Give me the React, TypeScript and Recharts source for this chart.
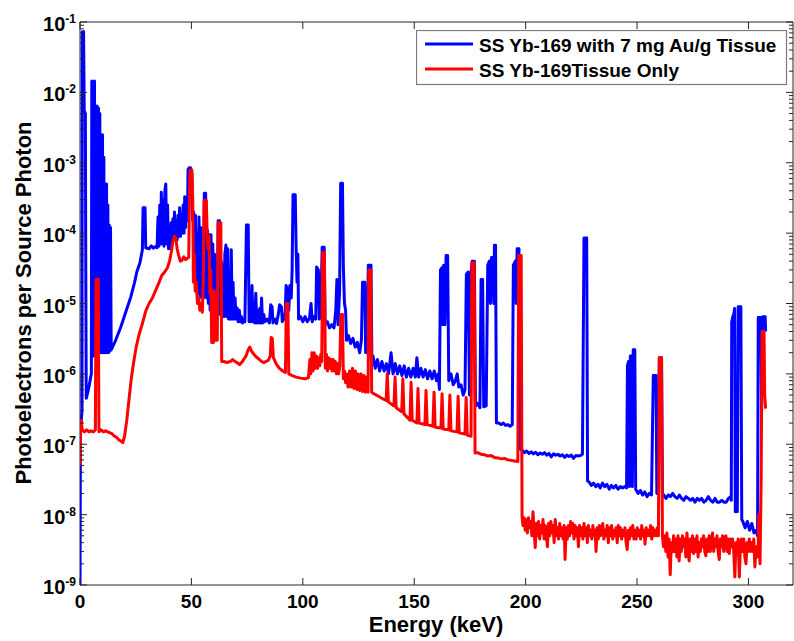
import React from "react";
import { LineChart, Line, XAxis, YAxis, ReferenceArea, Legend } from "recharts";

type Pt = [number, number];

// plot frame in page pixels
const PL = 80;
const PR = 793;
const PT = 22;
const PB = 585;
const AXIS = "#262626";
const FONT = "'Liberation Sans', Arial, Helvetica, sans-serif";

const seriesNames = ["SS Yb-169 with 7 mg Au/g Tissue", "SS Yb-169Tissue Only"];
const seriesColors = ["#0000ff", "#ff0000"];

const xTicks = [0, 50, 100, 150, 200, 250, 300];
const decades = [1e-9, 1e-8, 1e-7, 1e-6, 1e-5, 1e-4, 1e-3, 1e-2, 1e-1];
const minorSteps = [2, 3, 4, 5, 6, 7, 8, 9];

// energy (keV), photoelectrons per source photon
const blueLow: Pt[] = [
  [0, 1e-9], [0.2, 1.3e-7], [0.6, 2.2e-7], [0.9, 3e-7], [1.0, 7.2e-2], [1.6, 7.3e-2], [1.9, 5.5e-3],
  [2.4, 5e-3], [2.6, 3e-5], [2.8, 4.5e-7], [3.5, 5.5e-7], [4.2, 7e-7], [4.8, 9e-7], [5.1, 1e-6],
  [5.3, 1.45e-2], [5.6, 1.8e-6], [5.9, 1.4e-2], [6.2, 1.8e-6], [6.5, 1.45e-2], [6.8, 2e-6], [7.1, 6.4e-3],
  [7.4, 2e-6], [7.7, 6.4e-3], [8.0, 2e-6], [8.3, 6e-3], [8.6, 2e-6], [8.9, 5e-3], [9.2, 2e-6],
  [9.5, 2.5e-3], [9.8, 2e-6], [10.1, 2.5e-3], [10.4, 2e-6], [10.7, 1.2e-3], [11.0, 2e-6], [11.3, 5e-4],
  [11.6, 2e-6], [11.9, 5e-4], [12.2, 2e-6], [12.5, 2.5e-4], [12.8, 2e-6], [13.1, 1.3e-4], [13.4, 2.1e-6],
  [13.7, 1.2e-4], [14.0, 2.2e-6], [16.0, 3e-6], [18.4, 4.7e-6], [20.5, 7.5e-6], [22.8, 1.24e-5],
  [24.5, 2e-5], [25.5, 2.8e-5], [26.9, 3.8e-5], [28.0, 5.8e-5], [28.3, 2.3e-4], [29.2, 2.3e-4],
  [29.5, 6.2e-5], [31.0, 6e-5], [32.0, 6.6e-5], [33.0, 6.1e-5], [34.0, 6.5e-5], [34.6, 6.2e-5],
  [35.0, 1.7e-4], [35.4, 6.5e-5], [35.8, 2.5e-4], [36.2, 7e-5], [36.5, 3.8e-4], [36.9, 7e-5],
  [37.3, 3e-4], [37.7, 6.5e-5], [38.1, 4e-4], [38.5, 5e-4], [38.9, 7e-5], [39.3, 2.5e-4], [39.7, 6e-5],
  [40.1, 1.2e-4], [40.5, 6e-5], [40.9, 1.4e-4], [41.3, 7e-5], [41.7, 1.6e-4], [42.1, 8e-5], [42.4, 2e-4],
  [42.8, 9e-5], [43.2, 1.5e-4], [43.6, 8e-5], [44.0, 1.8e-4], [44.4, 9e-5], [44.7, 2.3e-4], [45.1, 9e-5],
  [45.5, 1.8e-4], [45.9, 1e-4], [46.3, 2.5e-4], [46.7, 1e-4], [47.0, 3.3e-4], [47.4, 1.2e-4],
  [47.8, 2.8e-4], [48.2, 1.5e-4], [48.5, 8e-4], [49.0, 8.5e-4], [49.6, 8.5e-4], [50.2, 7e-4], [50.6, 1.5e-4],
];

const blueMid: Pt[] = [
  [51.0, 2e-4], [51.4, 4e-5], [51.8, 1.8e-4], [52.2, 1.5e-5], [52.6, 1e-4], [53.0, 1.4e-5], [53.4, 1.7e-4],
  [53.8, 1.3e-5], [54.2, 1.2e-4], [54.6, 1.2e-5], [55.0, 6e-5], [55.4, 1.2e-5], [55.8, 3.7e-4],
  [56.4, 3.7e-4], [56.8, 1.2e-5], [57.2, 1.1e-4], [57.6, 1e-5], [58.0, 9.5e-5], [58.4, 8e-6], [58.8, 9.5e-5],
  [59.2, 8e-6], [59.6, 7e-5], [60.0, 7e-6], [60.4, 5e-5], [60.8, 7e-6], [61.2, 3e-5], [61.6, 7e-6],
  [62.0, 1.5e-4], [62.6, 1.5e-4], [63.0, 7e-6], [63.4, 4e-5], [63.8, 6.5e-6], [64.2, 3.5e-5], [64.6, 6.5e-6],
  [65.0, 5e-5], [65.5, 6.8e-5], [65.9, 6.5e-6], [66.3, 6e-5], [66.7, 6e-6], [67.1, 2.5e-5], [67.5, 6e-6],
  [67.9, 5.8e-5], [68.3, 6e-6], [68.7, 2e-5], [69.1, 6e-6], [69.6, 1.2e-5], [70.0, 6e-6], [70.5, 8.6e-6],
  [71.0, 5.5e-6], [71.5, 8e-6], [72.0, 5.5e-6], [72.5, 6.5e-6], [73.0, 5.3e-6], [73.5, 6e-6], [74.0, 5.5e-6],
  [74.7, 1.3e-4], [75.5, 1.3e-4], [75.9, 5.5e-6], [76.3, 9e-6], [76.8, 5.5e-6], [77.2, 1.8e-5], [77.6, 5.5e-6],
  [78.0, 1e-5], [78.4, 5.3e-6], [78.9, 1.4e-5], [79.3, 5.3e-6], [79.8, 8e-6], [80.2, 5.3e-6], [80.7, 8.5e-6],
  [81.1, 5.3e-6], [81.5, 1.2e-5], [81.9, 5.3e-6], [82.5, 7e-6], [83.0, 5.5e-6], [84.0, 6e-6], [85.0, 5.3e-6],
  [85.6, 9.6e-6], [86.2, 9e-6], [86.6, 5.3e-6], [87.5, 6e-6], [88.2, 5.2e-6], [89.0, 7e-6], [89.6, 9.6e-6],
  [90.4, 9e-6], [90.8, 5.5e-6], [91.5, 7e-6], [92.0, 6e-6], [92.5, 1.8e-5], [93.2, 1.6e-5], [93.7, 8e-6],
  [94.2, 1.8e-5], [94.8, 1.2e-5], [95.2, 3e-5], [95.6, 3.5e-4], [96.6, 3.5e-4], [97.0, 6e-5], [97.4, 2e-5],
  [97.8, 5e-5], [98.1, 6e-6], [99.0, 6.5e-6], [100.0, 5.5e-6], [101.0, 6.5e-6], [102.0, 5.5e-6],
  [103.0, 6.2e-6], [103.7, 1e-5], [104.2, 5.5e-6], [105.0, 6.5e-6], [105.8, 6e-6], [106.2, 3.3e-5],
  [107.0, 3e-5], [107.4, 6e-6], [108.0, 7e-6], [108.7, 6.3e-5], [109.6, 6.3e-5], [110.0, 5e-6],
  [111.0, 5.5e-6], [112.0, 4.5e-6], [113.0, 5e-6], [114.0, 4.5e-6], [114.8, 8e-6], [115.3, 2.2e-5],
  [115.8, 5e-6], [116.5, 1.5e-5], [117.0, 5.1e-4], [117.8, 5.1e-4], [118.2, 3.3e-5], [118.7, 1e-5],
  [119.2, 8e-6], [119.6, 3e-6], [120.5, 3.5e-6], [121.5, 2.7e-6], [122.5, 3.2e-6], [123.5, 2.4e-6],
  [124.5, 2.8e-6], [125.5, 2e-6], [126.3, 3e-6], [126.8, 2e-5], [127.8, 2e-5], [128.2, 2e-6], [128.8, 3e-6],
  [129.4, 3.5e-5], [130.6, 3.5e-5], [131.0, 1.5e-6],
];

const blueHigh: Pt[] = [
  [131.5, 1.8e-6], [132.5, 1.2e-6], [133.5, 1.6e-6], [134.5, 1.1e-6], [135.5, 1.5e-6], [136.5, 1.1e-6],
  [137.5, 1.4e-6], [138.5, 1e-6], [139.6, 2e-6], [140.5, 1e-6], [141.5, 1.4e-6], [142.5, 1e-6],
  [143.5, 1.3e-6], [144.5, 9.5e-7], [145.5, 1.3e-6], [146.5, 9e-7], [147.5, 1.2e-6], [148.5, 9e-7],
  [149.5, 1.2e-6], [150.5, 9e-7], [151.2, 1.7e-6], [152.0, 9e-7], [153.0, 1.2e-6], [154.0, 9e-7],
  [155.0, 1.15e-6], [156.0, 8.5e-7], [157.0, 1.1e-6], [158.0, 8.5e-7], [159.0, 1.1e-6], [160.0, 8e-7],
  [160.8, 1e-6], [161.3, 6e-7], [161.8, 3e-5], [162.4, 3.2e-5], [162.8, 5e-6], [163.2, 3.5e-5], [163.8, 5e-6],
  [164.3, 4.8e-5], [165.0, 4.8e-5], [165.5, 8e-7], [166.5, 1e-6], [167.5, 7e-7], [168.5, 8e-7], [169.3, 1e-6],
  [170.0, 6.5e-7], [171.0, 7e-7], [172.0, 5e-7], [172.8, 6e-7], [173.4, 2.6e-5], [174.2, 2.8e-5],
  [174.8, 5e-7], [175.4, 2.5e-5], [176.0, 4e-5], [177.0, 4e-5], [177.5, 3.5e-7], [178.5, 3.8e-7],
  [179.5, 3.3e-7], [180.0, 2.2e-5], [180.7, 2.2e-5], [181.2, 3.4e-7], [182.3, 3.5e-7], [183.0, 3.5e-5],
  [183.7, 4e-5], [184.2, 1e-5], [184.7, 4.5e-5], [185.3, 4.5e-5], [185.7, 1e-5], [186.0, 6.7e-5],
  [186.5, 6.7e-5], [186.9, 2e-7], [188.0, 2e-7], [189.0, 1.9e-7], [190.0, 2e-7], [191.0, 1.85e-7],
  [192.0, 1.9e-7], [193.0, 1.8e-7], [194.0, 1.9e-7], [194.5, 3.5e-5], [195.4, 4e-5], [195.8, 1e-5],
  [196.2, 6e-5], [197.0, 6e-5], [197.6, 8.5e-8],
];

const blueTail: Pt[] = [
  [198.5, 8.2e-8], [199.5, 7.6e-8], [200.5, 8e-8], [201.5, 7.4e-8], [202.5, 7.8e-8], [203.5, 7.3e-8],
  [204.5, 7.7e-8], [205.5, 7.1e-8], [206.5, 7.5e-8], [207.5, 7.2e-8], [208.5, 7.6e-8], [209.5, 7e-8],
  [210.5, 7.4e-8], [211.5, 6.6e-8], [212.5, 7.3e-8], [213.5, 7e-8], [214.5, 7.2e-8], [215.5, 6.8e-8],
  [216.5, 7.1e-8], [217.5, 6.5e-8], [218.5, 7e-8], [219.5, 6.7e-8], [220.5, 7e-8], [221.5, 6.3e-8],
  [222.5, 6.9e-8], [223.5, 6.8e-8], [224.5, 6.9e-8], [225.5, 7.2e-8], [226.2, 8.5e-5], [227.4, 8.5e-5],
  [227.8, 3e-8], [228.5, 2.9e-8], [229.5, 2.6e-8], [230.5, 2.8e-8], [231.5, 2.5e-8], [232.5, 2.7e-8],
  [233.5, 2.4e-8], [234.5, 2.8e-8], [235.5, 2.5e-8], [236.5, 2.7e-8], [237.5, 2.3e-8], [238.5, 2.6e-8],
  [239.5, 2.4e-8], [240.5, 2.6e-8], [241.5, 2.3e-8], [242.5, 2.5e-8], [243.5, 2.4e-8], [244.5, 2.5e-8],
  [245.3, 2.4e-8], [245.7, 1.3e-6], [246.2, 1.5e-6], [246.6, 2.5e-8], [247.0, 1.8e-6], [247.5, 1.8e-6],
  [247.9, 2.5e-8], [248.3, 2.2e-6], [249.0, 2.2e-6], [249.4, 2.3e-8], [250.5, 2e-8], [251.5, 2.2e-8],
  [252.5, 1.9e-8], [253.5, 2.1e-8], [254.5, 1.8e-8], [255.5, 2e-8], [256.5, 1.9e-8], [257.3, 9.5e-7],
  [258.5, 9.5e-7], [258.9, 2e-8], [259.5, 2.1e-8], [260.0, 1.7e-6], [261.0, 1.7e-6], [261.4, 2e-8],
  [262.0, 1.9e-8], [263.0, 1.7e-8], [264.0, 1.9e-8], [265.0, 1.8e-8], [266.0, 2e-8], [267.0, 1.8e-8],
  [268.0, 1.7e-8], [269.0, 1.9e-8], [270.0, 1.7e-8], [271.0, 1.6e-8], [272.0, 1.8e-8], [273.0, 1.7e-8],
  [274.0, 1.6e-8], [275.0, 1.7e-8], [276.0, 1.5e-8], [277.0, 1.7e-8], [278.0, 1.6e-8], [279.0, 1.7e-8],
  [280.0, 1.5e-8], [281.0, 1.6e-8], [282.0, 1.8e-8], [283.0, 1.6e-8], [284.0, 1.5e-8], [285.0, 1.7e-8],
  [286.0, 1.5e-8], [287.0, 1.5e-8], [288.0, 1.6e-8], [289.0, 1.5e-8], [290.0, 1.5e-8], [291.0, 1.7e-8],
  [292.0, 1.8e-8], [292.3, 1.6e-8], [292.5, 5.5e-6], [293.0, 6.5e-6], [293.4, 7e-6], [293.8, 8.5e-6],
  [294.1, 1.1e-8], [294.6, 5e-7], [295.0, 1.1e-8], [295.4, 9e-6], [296.6, 9e-6], [297.0, 8.5e-9],
  [297.5, 8e-9], [298.5, 6.5e-9], [299.5, 8e-9], [300.5, 6e-9], [301.5, 7.5e-9], [302.5, 5.5e-9],
  [303.5, 6e-9], [304.1, 5e-9], [304.4, 6.3e-6], [305.6, 6.3e-6], [305.9, 3e-7], [306.5, 6.5e-6],
  [307.5, 6.5e-6], [307.7, 4e-6],
];

const redLow: Pt[] = [
  [0, 5e-8], [0.2, 1.7e-7], [0.5, 2.2e-7], [1.0, 1.6e-7], [2.0, 1.5e-7], [3.0, 1.6e-7], [4.0, 1.5e-7],
  [5.0, 1.55e-7], [6.0, 1.5e-7], [6.9, 1.6e-7], [7.2, 2.2e-5], [8.2, 2.2e-5], [8.5, 1.5e-7], [9.5, 1.6e-7],
  [10.5, 1.5e-7], [11.5, 1.55e-7], [12.5, 1.5e-7], [13.5, 1.45e-7], [14.5, 1.4e-7], [15.5, 1.3e-7],
  [16.5, 1.25e-7], [17.5, 1.15e-7], [18.5, 1.1e-7], [19.2, 1.05e-7], [20.0, 1.3e-7], [21.0, 2.2e-7],
  [21.8, 3.8e-7], [23.0, 8.5e-7], [24.0, 1.4e-6], [25.2, 2.4e-6], [26.5, 3.6e-6], [28.0, 5.2e-6],
  [29.5, 7.8e-6], [31.0, 1e-5], [32.5, 1.2e-5], [34.0, 1.55e-5], [35.5, 2e-5], [36.7, 2.5e-5],
  [38.0, 2.8e-5], [39.2, 3.2e-5], [40.2, 4e-5], [41.0, 5.5e-5], [41.8, 8e-5], [42.4, 9e-5], [43.0, 8.5e-5],
  [43.6, 6e-5], [44.3, 4.8e-5], [45.0, 4e-5], [45.8, 4.1e-5], [46.6, 4.6e-5], [47.4, 4.2e-5],
  [48.2, 4.4e-5], [48.8, 4.5e-5], [49.1, 3e-4], [49.4, 7.9e-4], [50.2, 7.9e-4], [50.6, 3e-4],
];

const redMid: Pt[] = [
  [50.9, 2e-5], [51.3, 5e-5], [51.7, 1.5e-5], [52.2, 2e-5], [52.7, 1e-5], [53.3, 1.2e-5], [53.8, 8e-6],
  [54.4, 1e-5], [54.9, 7.5e-6], [55.3, 2e-5], [55.7, 2.9e-4], [56.7, 2.9e-4], [57.1, 9e-5], [57.5, 6e-5],
  [57.9, 9e-5], [58.3, 1.4e-5], [58.7, 3e-5], [59.1, 2.8e-6], [59.5, 1.5e-5], [59.9, 2.8e-6],
  [60.3, 1.5e-5], [60.7, 3e-6], [61.2, 1.2e-5], [61.6, 3e-6], [62.0, 1.4e-4], [63.2, 1.4e-4],
  [63.6, 1.5e-6], [64.5, 1.5e-6], [66.0, 1.45e-6], [67.5, 1.5e-6], [68.5, 1.6e-6], [69.5, 1.5e-6],
  [70.5, 1.45e-6], [71.6, 1.35e-6], [72.5, 1.45e-6], [73.5, 1.6e-6], [74.5, 1.8e-6], [75.5, 2.2e-6],
  [76.2, 2.4e-6], [77.0, 2.1e-6], [78.0, 1.9e-6], [79.0, 1.75e-6], [80.5, 1.6e-6], [81.5, 1.5e-6],
  [82.5, 1.45e-6], [83.5, 1.5e-6], [84.5, 1.55e-6], [85.4, 1.8e-6], [85.8, 3.3e-6], [86.3, 3.2e-6],
  [86.8, 1.7e-6], [88.0, 1.4e-6], [89.5, 1.2e-6], [91.0, 1.1e-6], [92.2, 1.05e-6], [92.6, 1e-5],
  [93.3, 1e-5], [93.7, 1e-6], [95.0, 9.5e-7], [97.0, 9e-7], [99.0, 8.7e-7], [101.0, 8.5e-7],
  [102.5, 8.8e-7], [103.2, 1.6e-6], [103.6, 1e-6], [104.1, 2e-6], [104.6, 1.1e-6], [105.1, 2e-6],
  [105.6, 1.2e-6], [106.1, 1.8e-6], [106.6, 1.2e-6], [107.1, 1.7e-6], [107.6, 1.3e-6], [108.1, 1.9e-6],
  [108.5, 1.5e-6], [108.9, 5.3e-5], [109.7, 5.3e-5], [110.1, 1.2e-6], [110.6, 1.9e-6], [111.1, 1.1e-6],
  [111.6, 1.7e-6], [112.1, 1.2e-6], [112.6, 1.6e-6], [113.1, 1.1e-6], [113.6, 1.6e-6], [114.1, 1.1e-6],
  [114.6, 1.5e-6], [115.1, 1e-6], [115.6, 1.4e-6], [116.1, 1e-6], [116.6, 1.3e-6], [117.1, 7e-6],
  [117.8, 7e-6], [118.2, 8.5e-7], [118.7, 1.1e-6], [119.2, 7.5e-7], [119.7, 1e-6], [120.3, 6.5e-7],
  [121.0, 1.1e-6], [121.6, 6.5e-7], [122.3, 1.2e-6], [122.9, 6.2e-7], [123.6, 1.1e-6], [124.2, 6e-7],
  [124.9, 1e-6], [125.5, 5.8e-7], [126.2, 1e-6], [126.8, 5.6e-7], [127.5, 9.5e-7], [128.1, 5.5e-7],
  [128.8, 9e-7], [129.3, 5.5e-7], [129.6, 3e-5], [130.5, 3e-5], [130.9, 5.5e-7],
];

const redHigh: Pt[] = [
  [131.5, 5.3e-7], [133.0, 5e-7], [134.5, 4.7e-7], [136.0, 4.4e-7], [137.4, 4.2e-7], [137.9, 1e-6],
  [138.4, 4e-7], [140.9, 3.5e-7], [141.4, 9e-7], [141.9, 3.3e-7], [144.4, 2.9e-7], [144.9, 8.5e-7],
  [145.4, 2.7e-7], [148.1, 2.2e-7], [148.6, 7.6e-7], [149.1, 2.2e-7], [151.2, 2e-7], [151.7, 6.2e-7],
  [152.2, 2e-7], [154.8, 1.9e-7], [155.3, 5.8e-7], [155.8, 1.9e-7], [158.4, 1.8e-7], [158.9, 5.5e-7],
  [159.4, 1.75e-7], [162.0, 1.7e-7], [162.5, 5.2e-7], [163.0, 1.65e-7], [165.5, 1.6e-7], [166.0, 5e-7],
  [166.5, 1.55e-7], [169.2, 1.5e-7], [169.7, 4.8e-7], [170.2, 1.45e-7], [172.8, 1.4e-7], [173.3, 4.6e-7],
  [173.8, 1.35e-7], [175.5, 1.3e-7], [175.9, 3.8e-5], [176.9, 3.8e-5], [177.3, 7.5e-8], [178.5, 7.6e-8],
  [180.0, 7.2e-8], [181.5, 7.1e-8], [183.0, 6.8e-8], [184.5, 6.9e-8], [186.0, 6.5e-8], [187.5, 6.4e-8],
  [189.0, 6.2e-8], [190.5, 6.3e-8], [192.0, 6e-8], [193.5, 5.9e-8], [195.0, 5.8e-8], [196.5, 5.7e-8],
  [196.9, 4.8e-5], [198.0, 4.8e-5], [198.4, 9.5e-9],
];

const redTail: Pt[] = [
  [198.8, 7e-9], [199.3, 9e-9], [199.8, 6e-9], [200.3, 8.5e-9], [200.8, 5.5e-9], [201.3, 9e-9],
  [201.8, 6.5e-9], [202.3, 8e-9], [202.8, 5e-9], [203.3, 1.1e-8], [203.8, 6e-9], [204.3, 3.4e-9],
  [204.8, 7.5e-9], [205.3, 5e-9], [205.8, 8e-9], [206.3, 4.5e-9], [206.8, 7e-9], [207.3, 5.5e-9],
  [207.8, 8.5e-9], [208.3, 4.5e-9], [208.8, 7e-9], [209.3, 5e-9], [209.8, 3.5e-9], [210.3, 7.5e-9],
  [210.8, 5e-9], [211.3, 8e-9], [211.8, 5.5e-9], [212.3, 7e-9], [212.8, 4e-9], [213.3, 8.5e-9],
  [213.8, 5e-9], [214.3, 6.5e-9], [214.8, 4.5e-9], [215.3, 7.5e-9], [215.8, 5e-9], [216.3, 6.5e-9],
  [216.8, 4.5e-9], [217.3, 7e-9], [217.7, 2.3e-9], [218.2, 6.5e-9], [218.7, 4.5e-9], [219.2, 7e-9],
  [219.7, 5e-9], [220.2, 8e-9], [220.7, 5.5e-9], [221.2, 7.5e-9], [221.7, 4.5e-9], [222.2, 7e-9],
  [222.7, 5e-9], [223.2, 6.5e-9], [223.7, 3.5e-9], [224.2, 7e-9], [224.7, 5e-9], [225.2, 6.5e-9],
  [225.7, 4.5e-9], [226.2, 7.5e-9], [226.7, 5e-9], [227.2, 6.5e-9], [227.7, 4e-9], [228.2, 7e-9],
  [228.7, 5e-9], [229.2, 6e-9], [229.7, 4.5e-9], [230.2, 7e-9], [230.7, 5e-9], [231.2, 6e-9],
  [231.6, 3e-9], [232.1, 6.5e-9], [232.6, 4.5e-9], [233.1, 7e-9], [233.6, 5e-9], [234.1, 6e-9],
  [234.6, 7.5e-9], [235.1, 4.5e-9], [235.6, 6e-9], [236.1, 5e-9], [236.6, 7e-9], [237.1, 4e-9],
  [237.6, 6.5e-9], [238.1, 5e-9], [238.6, 7e-9], [239.1, 4.5e-9], [239.6, 6e-9], [240.1, 5e-9],
  [240.6, 6.5e-9], [241.1, 4e-9], [241.6, 7e-9], [242.1, 5e-9], [242.6, 6.5e-9], [243.1, 4.5e-9],
  [243.6, 6e-9], [244.1, 5e-9], [244.6, 6.5e-9], [245.1, 4e-9], [245.6, 3.2e-9], [246.1, 6e-9],
  [246.6, 4.5e-9], [247.1, 6.5e-9], [247.6, 5e-9], [248.1, 7e-9], [248.6, 4.5e-9], [249.1, 6e-9],
  [249.6, 4.5e-9], [250.1, 6.5e-9], [250.6, 5e-9], [251.1, 6e-9], [251.6, 4.5e-9], [252.1, 7e-9],
  [252.6, 5e-9], [253.1, 6e-9], [253.6, 3.8e-9], [254.1, 6.5e-9], [254.6, 5e-9], [255.1, 6e-9],
  [255.6, 5e-9], [256.1, 7e-9], [256.6, 4.5e-9], [257.1, 6.5e-9], [257.6, 5e-9], [258.1, 6e-9],
  [258.6, 5e-9], [259.1, 6.5e-9], [259.6, 5e-9], [260.0, 1.7e-6], [261.0, 1.7e-6], [261.4, 5e-9],
  [261.9, 3.5e-9], [262.4, 5e-9], [262.9, 3e-9], [263.4, 5.5e-9], [263.9, 2.5e-9], [264.4, 4.5e-9],
  [264.9, 1.4e-9], [265.4, 4e-9], [265.9, 3e-9], [266.4, 5e-9], [266.9, 3e-9], [267.4, 4.5e-9],
  [267.9, 2.5e-9], [268.4, 5e-9], [268.9, 2.2e-9], [269.4, 4.5e-9], [269.9, 3e-9], [270.4, 5e-9],
  [270.9, 3.5e-9], [271.4, 4.5e-9], [271.9, 2.5e-9], [272.4, 5.5e-9], [272.9, 3e-9], [273.4, 2.2e-9],
  [273.9, 4.5e-9], [274.4, 3e-9], [274.9, 5e-9], [275.4, 2.8e-9], [275.9, 4.5e-9], [276.4, 3e-9],
  [276.9, 5e-9], [277.4, 2.5e-9], [277.9, 4e-9], [278.4, 3e-9], [278.9, 4.5e-9], [279.4, 3.5e-9],
  [279.9, 5e-9], [280.4, 3e-9], [280.9, 2.6e-9], [281.4, 4.5e-9], [281.9, 3e-9], [282.4, 5e-9],
  [282.9, 3e-9], [283.4, 4.5e-9], [283.9, 5.5e-9], [284.4, 3e-9], [284.9, 4.5e-9], [285.4, 3.5e-9],
  [285.9, 5e-9], [286.4, 3e-9], [286.9, 2.3e-9], [287.4, 4.5e-9], [287.9, 3.5e-9], [288.4, 5e-9],
  [288.9, 3e-9], [289.4, 4.5e-9], [289.9, 5e-9], [290.4, 3e-9], [290.9, 4.5e-9], [291.4, 2.8e-9],
  [291.9, 4.5e-9], [292.4, 3.5e-9], [292.9, 4.5e-9], [293.4, 3e-9], [293.9, 1.3e-9], [294.4, 4e-9],
  [294.9, 3e-9], [295.4, 4.5e-9], [295.9, 1.3e-9], [296.4, 3.5e-9], [296.9, 4.5e-9], [297.4, 3e-9],
  [297.9, 4.5e-9], [298.4, 2.5e-9], [298.9, 2e-9], [299.4, 4e-9], [299.9, 3e-9], [300.4, 4.5e-9],
  [300.9, 3e-9], [301.4, 4e-9], [301.9, 3e-9], [302.4, 4.5e-9], [302.9, 1.8e-9], [303.4, 3.5e-9],
  [303.9, 2.5e-9], [304.4, 3.5e-9], [304.6, 1e-8], [305.2, 2e-9], [305.7, 3e-8], [306.1, 4e-6],
  [307.0, 4e-6], [307.3, 5e-7], [307.7, 3.2e-7],
];

const toRows = (pts: Pt[]) => pts.map(([x, y]) => ({ x, y }));
const blueData = toRows([...blueLow, ...blueMid, ...blueHigh, ...blueTail]);
const redData = toRows([...redLow, ...redMid, ...redHigh, ...redTail]);

const yTicks = decades.flatMap((d, i) =>
  i < decades.length - 1 ? [d, ...minorSteps.map((m) => m * d)] : [d]
);

function XTick(props: any) {
  const { x, payload } = props;
  return (
    <g>
      <line x1={x} x2={x} y1={PB} y2={PB - 7} stroke={AXIS} />
      <line x1={x} x2={x} y1={PT} y2={PT + 7} stroke={AXIS} />
      <text x={x} y={PB + 23} textAnchor="middle" fontFamily={FONT} fontWeight="bold" fontSize={19} fill="#000">
        {payload.value}
      </text>
    </g>
  );
}

function YTick(props: any) {
  const { y, payload } = props;
  const e = Math.log10(payload.value);
  const major = Math.abs(e - Math.round(e)) < 1e-6;
  const len = major ? 7 : 4;
  return (
    <g>
      <line x1={PL} x2={PL + len} y1={y} y2={y} stroke={AXIS} />
      <line x1={PR} x2={PR - len} y1={y} y2={y} stroke={AXIS} />
      {major && (
        <text x={PL - 4} y={y + 9} textAnchor="end" fontFamily={FONT} fontWeight="bold" fontSize={20} fill="#000">
          10
          <tspan dy={-8} fontSize={12}>{Math.round(e)}</tspan>
        </text>
      )}
    </g>
  );
}

function XTitle() {
  return (
    <text x={436} y={632} textAnchor="middle" fontFamily={FONT} fontWeight="bold" fontSize={22} fill="#000">
      Energy (keV)
    </text>
  );
}

function YTitle() {
  return (
    <text x={31} y={303} transform="rotate(-90 31 303)" textAnchor="middle" fontFamily={FONT} fontWeight="bold" fontSize={22} fill="#000">
      Photoelectrons per Source Photon
    </text>
  );
}

function LegendBox() {
  return (
    <svg width={372} height={56} style={{ display: "block" }}>
      <rect x={0.5} y={0.5} width={370} height={54} fill="#fff" stroke="#7a7a7a" strokeWidth={1.2} />
      {seriesNames.map((name, i) => (
        <g key={name}>
          <line x1={9} x2={57} y1={14 + i * 25} y2={14 + i * 25} stroke={seriesColors[i]} strokeWidth={3} />
          <text x={63} y={22 + i * 25} fontFamily={FONT} fontWeight="bold" fontSize={19} fill="#000">
            {name}
          </text>
        </g>
      ))}
    </svg>
  );
}

export default function App() {
  return (
    <div style={{ position: "absolute", left: 0, top: 0, width: 794, height: 641, background: "#fff" }}>
      <LineChart width={794} height={641} margin={{ top: PT, right: 794 - PR, bottom: 0, left: 0 }}>
        <XAxis
          type="number"
          dataKey="x"
          domain={[0, 320]}
          ticks={xTicks}
          interval={0}
          height={641 - PB}
          allowDataOverflow
          axisLine={false}
          tickLine={false}
          tick={(p: any) => <XTick {...p} />}
          label={<XTitle />}
        />
        <YAxis
          type="number"
          scale="log"
          domain={[1e-9, 1e-1]}
          ticks={yTicks}
          interval={0}
          width={PL}
          allowDataOverflow
          axisLine={false}
          tickLine={false}
          tick={(p: any) => <YTick {...p} />}
          label={<YTitle />}
        />
        <ReferenceArea x1={0} x2={320} y1={1e-9} y2={1e-1} fill="none" stroke={AXIS} strokeWidth={1} />
        <Line
          data={blueData}
          dataKey="y"
          name={seriesNames[0]}
          stroke={seriesColors[0]}
          strokeWidth={3}
          strokeLinejoin="round"
          dot={false}
          activeDot={false}
          isAnimationActive={false}
        />
        <Line
          data={redData}
          dataKey="y"
          name={seriesNames[1]}
          stroke={seriesColors[1]}
          strokeWidth={3}
          strokeLinejoin="round"
          dot={false}
          activeDot={false}
          isAnimationActive={false}
        />
        <Legend
          layout="horizontal"
          verticalAlign="middle"
          align="center"
          wrapperStyle={{ left: 416, top: 30, width: 372, height: 56 }}
          content={() => <LegendBox />}
        />
      </LineChart>
    </div>
  );
}
